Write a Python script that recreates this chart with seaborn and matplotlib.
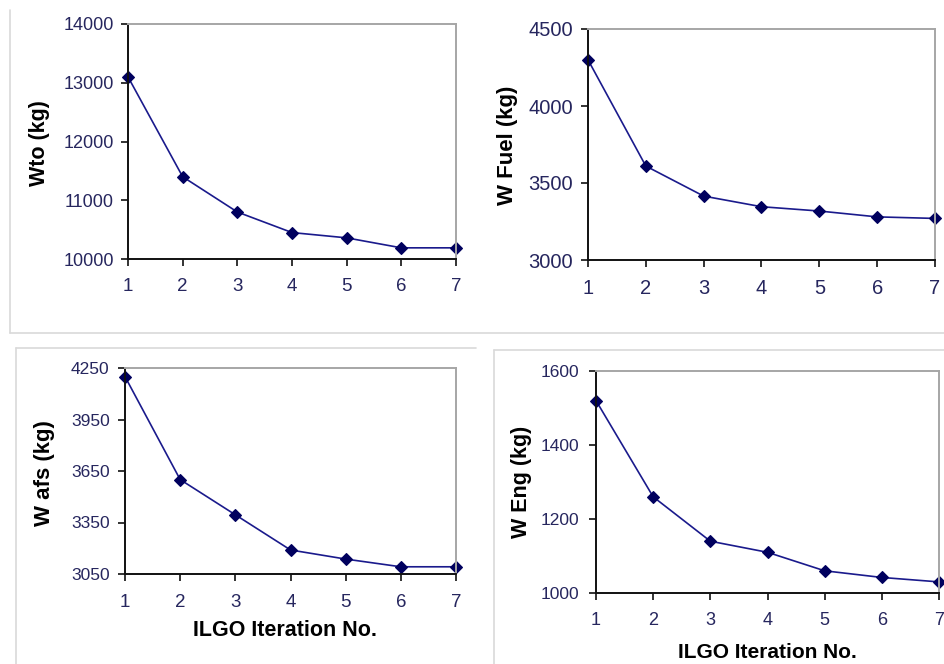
import matplotlib
matplotlib.use("Agg")
import matplotlib.pyplot as plt
from matplotlib.lines import Line2D
import seaborn as sns
import pandas as pd

# ---- data ----
iterations = [1, 2, 3, 4, 5, 6, 7]
w_to = [13100, 11400, 10800, 10450, 10360, 10190, 10190]
w_fuel = [4300, 3610, 3415, 3346, 3318, 3280, 3270]
w_afs = [4200, 3600, 3395, 3190, 3137, 3092, 3092]
w_eng = [1520, 1260, 1140, 1110, 1060, 1042, 1030]

ylabels = ["Wto (kg)", "W Fuel (kg)", "W afs (kg)", "W Eng (kg)"]
xlabel = "ILGO Iteration No."
yticks_list = [
    [10000, 11000, 12000, 13000, 14000],
    [3000, 3500, 4000, 4500],
    [3050, 3350, 3650, 3950, 4250],
    [1000, 1200, 1400, 1600],
]

sns.set_style("white")
plt.rcParams["font.family"] = ["Liberation Sans", "DejaVu Sans"]

W, H = 945, 664
fig = plt.figure(figsize=(W / 100, H / 100), dpi=100)

def px_axes(left, right, top, bottom):
    return fig.add_axes([left / W, 1 - bottom / H, (right - left) / W, (bottom - top) / H])

# chart-area borders (light gray)
border = "#d9d9d9"
def fline(xs, ys):
    fig.add_artist(Line2D([x / W for x in xs], [1 - y / H for y in ys],
                          color=border, lw=1.2, transform=fig.transFigure))
fline([10, 10], [10, 333]); fline([10, 945], [333, 333])
fline([16, 16], [348, 664]); fline([16, 476], [348, 348])
fline([494, 494], [350, 664]); fline([494, 945], [350, 350])

boxes = [(128, 456, 24, 259), (588, 935, 29, 260), (125, 456, 368, 574), (596, 939, 371, 593)]
series = [w_to, w_fuel, w_afs, w_eng]
ylab_pos = [(40, 143), (508, 145), (45, 473), (522, 482)]
xlab_pos = [None, None, (285, 630), (767, 653)]
ylab_size = [15.5, 16, 16, 15.5]
xlab_size = [15, 15, 15.5, 15]
ytick_size = [13, 14.5, 12.5, 12.5]
xtick_size = [13.5, 14.5, 13.5, 13]
ytick_pad = [5, 6, 6, 7]
xtick_pad = [9, 9, 9.5, 8.5]

tick_color = "#26265e"
for i, (box, vals) in enumerate(zip(boxes, series)):
    ax = px_axes(*box)
    df = pd.DataFrame({"it": iterations, "val": vals})
    sns.lineplot(data=df, x="it", y="val", ax=ax, color="#1a1a8c", lw=1.2,
                 marker="D", markersize=6.3, markeredgecolor="#00005e",
                 markerfacecolor="#00005e", markeredgewidth=0.8, clip_on=False)
    yt = yticks_list[i]
    ax.set_xlim(1, 7)
    ax.set_ylim(yt[0], yt[-1])
    ax.set_xticks(iterations)
    ax.set_yticks(yt)
    ax.set_xlabel("")
    ax.set_ylabel("")
    for s in ["left", "bottom"]:
        ax.spines[s].set_color("#111111")
        ax.spines[s].set_linewidth(1.4)
    for s in ["top", "right"]:
        ax.spines[s].set_color("#a6a6a6")
        ax.spines[s].set_linewidth(1.4)
        ax.spines[s].set_visible(True)
    ax.tick_params(axis="y", direction="out", length=5, width=1.2, color="#111111",
                   labelsize=ytick_size[i], labelcolor=tick_color, pad=ytick_pad[i], left=True)
    ax.tick_params(axis="x", direction="out", length=5, width=1.2, color="#111111",
                   labelsize=xtick_size[i], labelcolor=tick_color, pad=xtick_pad[i], bottom=True)
    fig.text(ylab_pos[i][0] / W, 1 - ylab_pos[i][1] / H, ylabels[i], rotation=90,
             ha="center", va="center", fontsize=ylab_size[i], fontweight="bold", color="black")
    if xlab_pos[i] is not None:
        fig.text(xlab_pos[i][0] / W, 1 - xlab_pos[i][1] / H, xlabel,
                 ha="center", va="center", fontsize=xlab_size[i], fontweight="bold", color="black")

fig.savefig("out.png", dpi=100, facecolor="white")
